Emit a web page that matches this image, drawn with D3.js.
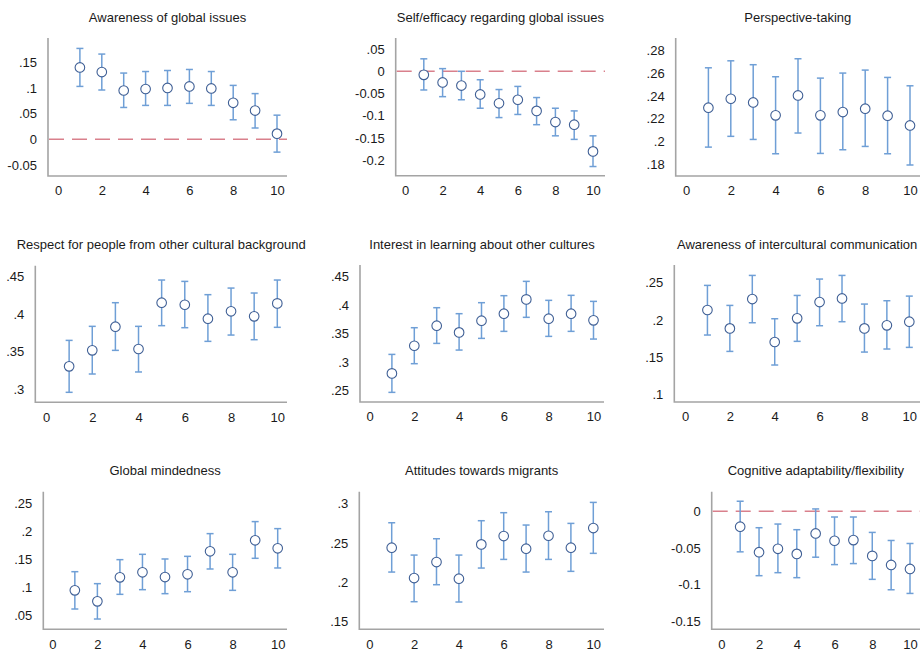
<!DOCTYPE html>
<html>
<head>
<meta charset="utf-8">
<script src="https://cdn.jsdelivr.net/npm/d3@7"></script>
<style>
  html, body { margin: 0; padding: 0; background: #fff; }
  svg { display: block; }
  text { font-family: "Liberation Sans", Arial, Helvetica, sans-serif; fill: #1a1a1a; }
</style>
</head>
<body>
<svg id="chart" width="920" height="658"></svg>
<script>
// ---------- DATA ----------
const xValues = [1, 2, 3, 4, 5, 6, 7, 8, 9, 10];
const xTicks = [0, 2, 4, 6, 8, 10];

const titles = [
  "Awareness of global issues",
  "Self/efficacy regarding global issues",
  "Perspective-taking",
  "Respect for people from other cultural background",
  "Interest in learning about other cultures",
  "Awareness of intercultural communication",
  "Global mindedness",
  "Attitudes towards migrants",
  "Cognitive adaptability/flexibility"
];

// point estimates
const estGlobalIssues   = [0.140, 0.131, 0.095, 0.098, 0.100, 0.103, 0.099, 0.071, 0.056, 0.011];
const estSelfEfficacy   = [-0.008, -0.025, -0.032, -0.052, -0.072, -0.064, -0.089, -0.114, -0.120, -0.180];
const estPerspective    = [0.2297, 0.2375, 0.2343, 0.2230, 0.2404, 0.2230, 0.2259, 0.2288, 0.2227, 0.2142];
const estRespect        = [0.3306, 0.3519, 0.3834, 0.3537, 0.4154, 0.4127, 0.3941, 0.4039, 0.3972, 0.4145];
const estInterest       = [0.2804, 0.3289, 0.3640, 0.3523, 0.3728, 0.3851, 0.4102, 0.3763, 0.3851, 0.3734];
const estIntercultural  = [0.2133, 0.1886, 0.2280, 0.1703, 0.2021, 0.2240, 0.2289, 0.1886, 0.1927, 0.1976];
const estMindedness     = [0.0951, 0.0755, 0.1182, 0.1272, 0.1188, 0.1236, 0.1645, 0.1272, 0.1841, 0.1699];
const estMigrants       = [0.2441, 0.2055, 0.2258, 0.2047, 0.2483, 0.2589, 0.2428, 0.2593, 0.2441, 0.2691];
const estCognitive      = [-0.0210, -0.0558, -0.0512, -0.0581, -0.0302, -0.0402, -0.0393, -0.0608, -0.0732, -0.0786];

// lower confidence bounds
const loGlobalIssues    = [0.103, 0.096, 0.062, 0.066, 0.066, 0.070, 0.066, 0.038, 0.022, -0.025];
const loSelfEfficacy    = [-0.042, -0.057, -0.064, -0.083, -0.104, -0.097, -0.120, -0.145, -0.153, -0.214];
const loPerspective     = [0.1953, 0.2047, 0.2020, 0.1895, 0.2076, 0.1898, 0.1930, 0.1959, 0.1895, 0.1797];
const loRespect         = [0.2960, 0.3204, 0.3519, 0.3231, 0.3848, 0.3821, 0.3639, 0.3723, 0.3661, 0.3826];
const loInterest        = [0.2471, 0.2974, 0.3330, 0.3213, 0.3418, 0.3541, 0.3787, 0.3453, 0.3541, 0.3406];
const loIntercultural   = [0.1797, 0.1577, 0.1962, 0.1394, 0.1712, 0.1922, 0.1976, 0.1568, 0.1609, 0.1631];
const loMindedness      = [0.0619, 0.0441, 0.0880, 0.0963, 0.0892, 0.0927, 0.1331, 0.0951, 0.1521, 0.1349];
const loMigrants        = [0.2131, 0.1754, 0.1970, 0.1750, 0.2182, 0.2292, 0.2131, 0.2292, 0.2140, 0.2369];
const loCognitive       = [-0.0553, -0.0878, -0.0837, -0.0905, -0.0626, -0.0727, -0.0713, -0.0928, -0.1070, -0.1120];

// upper confidence bounds
const hiGlobalIssues    = [0.177, 0.166, 0.129, 0.132, 0.134, 0.136, 0.132, 0.105, 0.089, 0.047];
const hiSelfEfficacy    = [0.028, 0.006, 0.000, -0.019, -0.041, -0.034, -0.059, -0.083, -0.089, -0.145];
const hiPerspective     = [0.2645, 0.2706, 0.2672, 0.2567, 0.2724, 0.2555, 0.2599, 0.2625, 0.2561, 0.2488];
const hiRespect         = [0.3652, 0.3839, 0.4154, 0.3839, 0.4456, 0.4438, 0.4261, 0.4349, 0.4283, 0.4456];
const hiInterest        = [0.3137, 0.3605, 0.3956, 0.3851, 0.4044, 0.4167, 0.4418, 0.4085, 0.4173, 0.4067];
const hiIntercultural   = [0.2464, 0.2195, 0.2598, 0.2016, 0.2329, 0.2549, 0.2598, 0.2213, 0.2258, 0.2320];
const hiMindedness      = [0.1283, 0.1070, 0.1497, 0.1592, 0.1509, 0.1556, 0.1960, 0.1592, 0.2174, 0.2049];
const hiMigrants        = [0.2758, 0.2347, 0.2555, 0.2347, 0.2784, 0.2886, 0.2729, 0.2898, 0.2750, 0.3017];
const hiCognitive       = [0.0137, -0.0224, -0.0174, -0.0251, 0.0032, -0.0078, -0.0078, -0.0288, -0.0398, -0.0439];

// y tick values per panel
const yTicksGlobalIssues   = [-0.05, 0, 0.05, 0.1, 0.15];
const yTicksSelfEfficacy   = [-0.2, -0.15, -0.1, -0.05, 0, 0.05];
const yTicksPerspective    = [0.18, 0.2, 0.22, 0.24, 0.26, 0.28];
const yTicksRespect        = [0.3, 0.35, 0.4, 0.45];
const yTicksInterest       = [0.25, 0.3, 0.35, 0.4, 0.45];
const yTicksIntercultural  = [0.1, 0.15, 0.2, 0.25];
const yTicksMindedness     = [0.05, 0.1, 0.15, 0.2, 0.25];
const yTicksMigrants       = [0.15, 0.2, 0.25, 0.3];
const yTicksCognitive      = [-0.15, -0.1, -0.05, 0];

// y axis ranges per panel
const yRanges = [
  [-0.0715, 0.1973],
  [-0.2346, 0.0748],
  [0.1701, 0.2905],
  [0.2827, 0.4647],
  [0.2302, 0.4705],
  [0.0897, 0.2738],
  [0.0258, 0.2706],
  [0.1403, 0.3153],
  [-0.1609, 0.0267]
];

// whether a reference line at zero is drawn
const zeroLine = [true, true, false, false, false, false, false, false, true];

// ---------- LAYOUT (pixels) ----------
const layout = [
  { axisX: 48,    x0: 58,    x10: 277,   xEnd: 287, yTop: 38,    yBot: 176 },
  { axisX: 395.7, x0: 405,   x10: 593,   xEnd: 605, yTop: 38,    yBot: 175.7 },
  { axisX: 675.7, x0: 686,   x10: 910,   xEnd: 921, yTop: 38,    yBot: 176 },
  { axisX: 35.3,  x0: 46,    x10: 277.3, xEnd: 287, yTop: 265.7, yBot: 402.3 },
  { axisX: 360,   x0: 369.5, x10: 593.5, xEnd: 604, yTop: 265,   yBot: 402 },
  { axisX: 674.3, x0: 685,   x10: 909.3, xEnd: 921, yTop: 265,   yBot: 402 },
  { axisX: 43.3,  x0: 52.3,  x10: 277.7, xEnd: 287, yTop: 491.7, yBot: 629.3 },
  { axisX: 359.3, x0: 369.3, x10: 593.3, xEnd: 604, yTop: 491.7, yBot: 629.3 },
  { axisX: 711.7, x0: 721.3, x10: 910,   xEnd: 921, yTop: 491.7, yBot: 629.3 }
];
const titleY = [17, 244, 470];

const panels = [
  { est: estGlobalIssues,  lo: loGlobalIssues,  hi: hiGlobalIssues,  ticks: yTicksGlobalIssues },
  { est: estSelfEfficacy,  lo: loSelfEfficacy,  hi: hiSelfEfficacy,  ticks: yTicksSelfEfficacy },
  { est: estPerspective,   lo: loPerspective,   hi: hiPerspective,   ticks: yTicksPerspective },
  { est: estRespect,       lo: loRespect,       hi: hiRespect,       ticks: yTicksRespect },
  { est: estInterest,      lo: loInterest,      hi: hiInterest,      ticks: yTicksInterest },
  { est: estIntercultural, lo: loIntercultural, hi: hiIntercultural, ticks: yTicksIntercultural },
  { est: estMindedness,    lo: loMindedness,    hi: hiMindedness,    ticks: yTicksMindedness },
  { est: estMigrants,      lo: loMigrants,      hi: hiMigrants,      ticks: yTicksMigrants },
  { est: estCognitive,     lo: loCognitive,     hi: hiCognitive,     ticks: yTicksCognitive }
];

// Stata-style number format: ".15", "-.05", "0"
function stataFmt(v) {
  if (Math.abs(v) < 1e-9) return "0";
  let s = d3.format("~g")(+v.toFixed(4));
  return s.replace(/^(-?)0\./, "$1.").replace("−", "-");
}

const svg = d3.select("#chart");
const barColor = "#6f9fd6";
const dotColor = "#3f5f95";
const axisColor = "#a4a4a4";

panels.forEach((p, i) => {
  const L = layout[i];
  const x = d3.scaleLinear().domain([0, 10]).range([L.x0, L.x10]);
  const y = d3.scaleLinear().domain(yRanges[i]).range([L.yBot, L.yTop]);
  const g = svg.append("g");

  // title
  g.append("text")
    .attr("x", (L.axisX + Math.min(L.xEnd, 920)) / 2)
    .attr("y", titleY[Math.floor(i / 3)])
    .attr("text-anchor", "middle")
    .attr("dominant-baseline", "central")
    .attr("font-size", 13)
    .text(titles[i]);

  // y axis (no tick marks, labels only)
  const yAxis = d3.axisLeft(y).tickValues(p.ticks).tickSize(0).tickPadding(11).tickFormat(stataFmt);
  const ya = g.append("g").attr("transform", `translate(${L.axisX},0)`).call(yAxis);
  ya.select(".domain").remove();
  ya.selectAll("text").attr("font-size", 13).attr("fill", "#1a1a1a")
    .style("font-family", '"Liberation Sans", Arial, sans-serif');

  // x axis labels
  const xAxis = d3.axisBottom(x).tickValues(xTicks).tickSize(0).tickPadding(10).tickFormat(d3.format("d"));
  const xa = g.append("g").attr("transform", `translate(0,${L.yBot})`).call(xAxis);
  xa.select(".domain").remove();
  xa.selectAll("text").attr("font-size", 13).attr("fill", "#1a1a1a")
    .style("font-family", '"Liberation Sans", Arial, sans-serif');

  // axis lines
  g.append("path")
    .attr("d", `M${L.axisX},${L.yTop}V${L.yBot}H${L.xEnd}`)
    .attr("fill", "none")
    .attr("stroke", axisColor)
    .attr("stroke-width", 1.6);

  // zero reference line
  if (zeroLine[i]) {
    g.append("line")
      .attr("x1", L.axisX + 1).attr("x2", L.xEnd)
      .attr("y1", y(0)).attr("y2", y(0))
      .attr("stroke", "#d9808c")
      .attr("stroke-width", 1.5)
      .attr("stroke-dasharray", "15,8");
  }

  const rows = xValues.map((xv, k) => ({ x: xv, est: p.est[k], lo: p.lo[k], hi: p.hi[k] }));

  // error bars
  const bars = g.append("g").attr("stroke", barColor).attr("stroke-width", 1.5).attr("fill", "none");
  bars.selectAll("line.v").data(rows).join("line").attr("class", "v")
    .attr("x1", d => x(d.x)).attr("x2", d => x(d.x))
    .attr("y1", d => y(d.lo)).attr("y2", d => y(d.hi));
  bars.selectAll("line.capHi").data(rows).join("line").attr("class", "capHi")
    .attr("x1", d => x(d.x) - 3.5).attr("x2", d => x(d.x) + 3.5)
    .attr("y1", d => y(d.hi)).attr("y2", d => y(d.hi));
  bars.selectAll("line.capLo").data(rows).join("line").attr("class", "capLo")
    .attr("x1", d => x(d.x) - 3.5).attr("x2", d => x(d.x) + 3.5)
    .attr("y1", d => y(d.lo)).attr("y2", d => y(d.lo));

  // point estimates (hollow circles)
  g.selectAll("circle").data(rows).join("circle")
    .attr("cx", d => x(d.x)).attr("cy", d => y(d.est))
    .attr("r", 4.8)
    .attr("fill", "#fff")
    .attr("stroke", dotColor)
    .attr("stroke-width", 1.1);
});
</script>
</body>
</html>
